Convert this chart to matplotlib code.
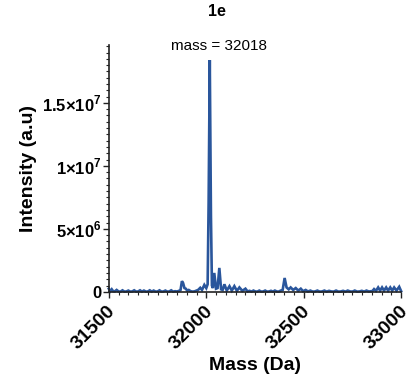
import matplotlib
matplotlib.use("Agg")
import matplotlib.pyplot as plt
from matplotlib.ticker import FixedLocator, MultipleLocator
from matplotlib.transforms import ScaledTranslation

plt.rcParams['font.family'] = ['Liberation Sans', 'DejaVu Sans']
plt.rcParams['mathtext.fontset'] = 'custom'
plt.rcParams['mathtext.rm'] = 'Liberation Sans:bold'
plt.rcParams['mathtext.bf'] = 'Liberation Sans:bold'

# Deconvoluted spectrum (mass in Da, intensity in units of 1e6)
mass = [31500, 31508, 31515, 31522, 31530, 31540, 31550, 31560, 31570, 31580,
        31590, 31600, 31610, 31620, 31630, 31640, 31650, 31660, 31670, 31680,
        31690, 31700, 31710, 31720, 31730, 31740, 31750, 31760, 31770, 31780,
        31790, 31800, 31810, 31820, 31830, 31840, 31850, 31860, 31868, 31875,
        31881, 31888, 31895, 31902, 31910, 31920, 31930, 31940, 31950, 31958,
        31969, 31978, 31990, 32000, 32007, 32012, 32018, 32024, 32029, 32034,
        32041, 32050, 32058, 32067, 32076, 32084, 32093, 32105, 32119, 32131,
        32144, 32157, 32170, 32185, 32201, 32212, 32222, 32232, 32242, 32252,
        32262, 32272, 32282, 32292, 32302, 32312, 32322, 32332, 32342, 32352,
        32362, 32372, 32382, 32392, 32402, 32412, 32423, 32433, 32446, 32459,
        32472, 32485, 32497, 32510, 32522, 32534, 32546, 32558, 32570, 32582,
        32594, 32606, 32618, 32630, 32642, 32654, 32666, 32678, 32690, 32702,
        32714, 32726, 32738, 32750, 32762, 32774, 32786, 32798, 32810, 32822,
        32834, 32846, 32852, 32861, 32871, 32882, 32892, 32902, 32912, 32923,
        32933, 32944, 32954, 32964, 32976, 32990, 33000]
intensity = [0.25, 0.05, 0.20, 0.05, 0.03, 0.15, 0.03, 0.02, 0.12, 0.02,
             0.03, 0.10, 0.02, 0.03, 0.12, 0.02, 0.03, 0.12, 0.02, 0.10,
             0.02, 0.03, 0.12, 0.02, 0.10, 0.02, 0.03, 0.12, 0.02, 0.03,
             0.10, 0.02, 0.03, 0.12, 0.02, 0.05, 0.03, 0.08, 0.15, 0.85,
             0.70, 0.30, 0.25, 0.10, 0.15, 0.05, 0.02, 0.04, 0.10, 0.15,
             0.32, 0.15, 0.55, 0.30, 0.60, 7.00, 18.40, 6.00, 0.50, 0.30,
             1.50, 0.25, 0.30, 1.90, 0.20, 0.15, 0.60, 0.10, 0.45, 0.10,
             0.45, 0.08, 0.35, 0.08, 0.25, 0.03, 0.08, 0.02, 0.10, 0.03,
             0.02, 0.10, 0.02, 0.03, 0.10, 0.02, 0.03, 0.08, 0.02, 0.10,
             0.03, 0.02, 0.10, 0.15, 1.10, 0.35, 0.20, 0.35, 0.15, 0.30,
             0.10, 0.25, 0.05, 0.15, 0.03, 0.10, 0.02, 0.03, 0.10, 0.02,
             0.03, 0.10, 0.02, 0.08, 0.03, 0.02, 0.10, 0.02, 0.03, 0.08,
             0.02, 0.10, 0.03, 0.02, 0.10, 0.02, 0.03, 0.08, 0.02, 0.10,
             0.03, 0.05, 0.05, 0.22, 0.08, 0.35, 0.10, 0.35, 0.10, 0.35,
             0.10, 0.35, 0.10, 0.35, 0.10, 0.40, 0.05]

x_ticks = [31500, 32000, 32500, 33000]
y_ticks = [0, 5e6, 1e7, 1.5e7]
y_tick_labels = ['0', r'5$\times$10$^{6}$', r'1$\times$10$^{7}$', r'1.5$\times$10$^{7}$']
peak_label = 'mass = 32018'
title = '1e'

fig = plt.figure(figsize=(4.17, 3.81), dpi=100)
ax = fig.add_axes([0.261, 0.234, 0.701, 0.648])

ax.plot(mass, [v * 1e6 for v in intensity], color='#2A569C', lw=1.9,
        clip_on=False, solid_joinstyle='miter')

ax.set_xlim(31500, 33000)
ax.set_ylim(0, 1.96e7)

for s in ['top', 'right']:
    ax.spines[s].set_visible(False)
for s in ['left', 'bottom']:
    ax.spines[s].set_linewidth(1.2)
    ax.spines[s].set_color('#222222')

ax.xaxis.set_major_locator(FixedLocator(x_ticks))
ax.xaxis.set_minor_locator(MultipleLocator(50))
ax.yaxis.set_major_locator(FixedLocator(y_ticks))
ax.yaxis.set_minor_locator(MultipleLocator(5e5))
ax.set_yticklabels(y_tick_labels)
ax.set_xticklabels([str(v) for v in x_ticks])

ax.tick_params(axis='both', which='major', length=4, width=1.0, color='#222222')
ax.tick_params(axis='both', which='minor', length=2, width=0.8, color='#222222')
ax.tick_params(axis='y', labelsize=12, pad=1)
ax.tick_params(axis='x', labelsize=14, pad=8)
shift = ScaledTranslation(4 / 100, 0, fig.dpi_scale_trans)
for lbl in ax.get_yticklabels():
    lbl.set_fontweight('bold')
for lbl in ax.get_xticklabels():
    lbl.set_fontweight('bold')
    lbl.set_rotation(45)
    lbl.set_ha('right')
    lbl.set_va('center')
    lbl.set_rotation_mode('anchor')
    lbl.set_transform(lbl.get_transform() + shift)

ax.set_xlabel('Mass (Da)', fontsize=14, fontweight='bold', labelpad=3)
ax.set_ylabel('Intensity (a.u)', fontsize=14, fontweight='bold', labelpad=4)

fig.text(0.52, 0.97, title, ha='center', va='center', fontsize=11.5, fontweight='bold')
ax.text(0.376, 0.994, peak_label, transform=ax.transAxes,
        ha='center', va='center', fontsize=11)

fig.savefig('out.png', dpi=100)
